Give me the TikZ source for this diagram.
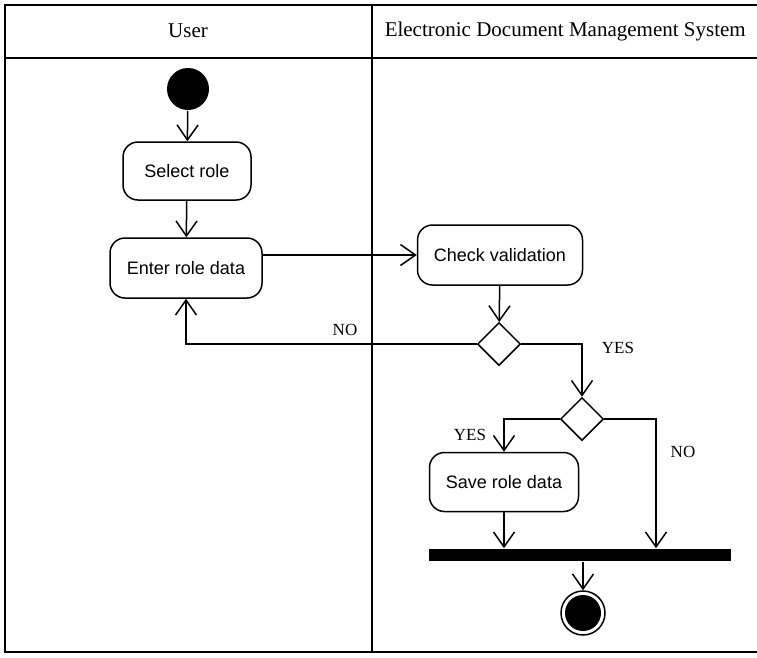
\documentclass[tikz,border=0pt]{standalone}
\usepackage{fontspec}
\setmainfont{Liberation Serif}
\setsansfont{Liberation Sans}
\usetikzlibrary{arrows.meta,shapes.geometric,positioning}

\begin{document}
\begin{tikzpicture}[x=1pt,y=-1pt,line width=1.5pt,
  every node/.style={inner sep=0pt},
  lanetitle/.style={font=\fontsize{21}{24}\selectfont},
  act/.style={draw,rounded corners=15pt,font=\sffamily\fontsize{18}{20}\selectfont},
  choice/.style={draw,diamond,minimum width=43pt,minimum height=43pt},
  guard/.style={font=\fontsize{17}{19}\selectfont},
  flow/.style={-{Straight Barb[length=15pt,width=21pt,line width=1.5pt]}}]
\useasboundingbox (0,0) rectangle (757,657);
% swimlanes
\draw (757,5) -- (5,5) -- (5,652) -- (757,652);
\draw (5,58) -- (757,58);
\draw (372,5) -- (372,652);
\node[lanetitle] (userlane) at (188,31) {User};
\node[lanetitle,anchor=west] (edmslane) at (384,31) {Electronic Document Management System};
% activities
\node[circle,fill,minimum size=42pt] (start) at (188,89) {};
\node[act,minimum width=128pt,minimum height=58pt] (select) at (187,171) {Select role};
\node[act,minimum width=152pt,minimum height=60pt] (enter) at (186,268) {Enter role data};
\node[act,minimum width=165pt,minimum height=60pt] (check) at (500,255) {Check validation};
\node[choice] (valid) at (499,344) {};
\node[choice] (decide) at (582,419) {};
\node[act,minimum width=149pt,minimum height=59pt] (save) at (504,482) {Save role data};
\node[fill,minimum width=302pt,minimum height=12pt] (join) at (580,555) {};
\node[circle,draw,minimum size=44pt] (final) at (583,613) {};
\node[circle,fill,minimum size=36pt] at (final) {};
% flows
\draw[flow] (start) -- (select);
\draw[flow] (select) -- (enter);
\draw[flow] (enter.east |- check.west) -- (check.west);
\draw[flow] (check) -- (valid);
\draw[flow] (valid.west) -| (enter.south);
\node[guard] (novalid) at (345,330) {NO};
\draw[flow] (valid.east) -| (decide.north);
\node[guard] (yesvalid) at (618,348) {YES};
\draw[flow] (decide.west) -| (save.north);
\node[guard] (yessave) at (470,435) {YES};
\draw[flow] (decide.east) -| ([xshift=76pt]join.north);
\node[guard] (nosave) at (683,452) {NO};
\draw[flow] (save) -- (save |- join.north);
\draw[flow] (join.south -| final) -- (final);
\end{tikzpicture}
\end{document}
